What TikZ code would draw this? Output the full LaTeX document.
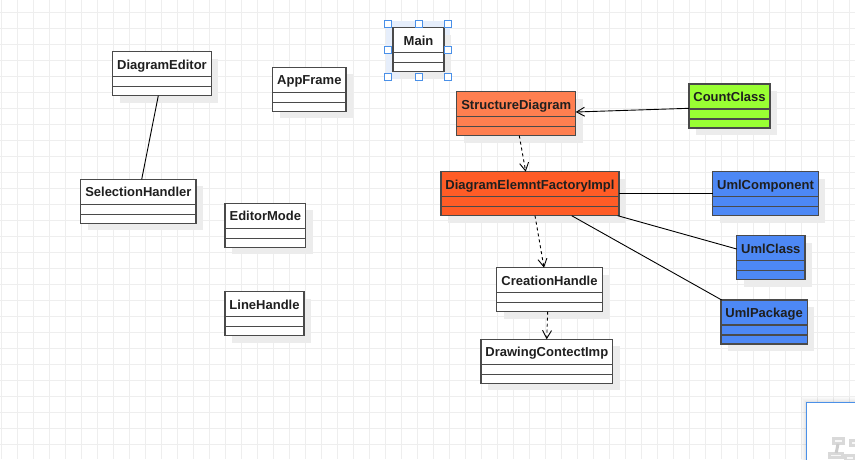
\documentclass[tikz,border=0pt]{standalone}
\usepackage{fontspec}
\setmainfont{Liberation Sans}
\usetikzlibrary{arrows.meta,calc}

\definecolor{gridc}{HTML}{EEEEEE}
\definecolor{edgec}{HTML}{4A4A4A}
\definecolor{shadowc}{HTML}{ECECEC}
\definecolor{coralc}{HTML}{FF7F50}
\definecolor{flamec}{HTML}{FF5C26}
\definecolor{limec}{HTML}{99FF33}
\definecolor{bluec}{HTML}{4D88F5}
\definecolor{selc}{HTML}{4A90E8}
\definecolor{selfill}{HTML}{E6EEFB}

\tikzset{
  gridline/.style={draw=gridc, line width=1pt},
  boxshadow/.style={fill=shadowc},
  classbox/.style={draw=edgec, line width=1.1pt, rectangle, minimum height=44pt,
                   inner sep=0pt, outer sep=0pt},
  classrule/.style={draw=edgec, line width=1.1pt},
  classname/.style={anchor=base, inner sep=0pt, text=black!88,
                    font=\bfseries\fontsize{13}{15}\selectfont},
  assoc/.style={draw=black, line width=0.9pt},
  opentip/.style={-{Straight Barb[length=8pt,width=9pt]}},
  dep/.style={assoc, dash pattern=on 3pt off 3pt, opentip},
  handle/.style={draw=selc, fill=white, line width=1pt},
  minibox/.style={draw=gray!30, fill=gray!6, line width=3pt},
}

% class box: name, left, top, width, fill colour, title
\newcommand{\umlclass}[6]{%
  \fill[boxshadow] (#2+7,#3+7) rectangle ++(#4,44);
  \node[classbox, fill=#5, minimum width=#4pt, anchor=north west] (#1) at (#2,#3) {};
  \draw[classrule] ($(#1.north west)+(0,25)$) -- ($(#1.north east)+(0,25)$);
  \draw[classrule] ($(#1.north west)+(0,35)$) -- ($(#1.north east)+(0,35)$);
  \node[classname] (#1-name) at ($(#1.north)+(0,17.5)$) {#6};
}

\begin{document}
\begin{tikzpicture}[x=1pt,y=-1pt]
\useasboundingbox (0,0) rectangle (855,459);
\fill[white] (0,0) rectangle (855,459);

% background grid
\foreach \i in {0,...,53} \draw[gridline] (1.3+16*\i,0) -- (1.3+16*\i,459);
\foreach \j in {0,...,28} \draw[gridline] (0,12.3+16*\j) -- (855,12.3+16*\j);

% selection frame behind Main
\fill[selfill] (386,21) rectangle (450,79);

% classes
\umlclass{main}{393}{27.7}{51}{white}{Main}
\umlclass{editor}{112.7}{51.7}{98.6}{white}{DiagramEditor}
\umlclass{appframe}{272.7}{67.3}{73.3}{white}{AppFrame}
\umlclass{selhandler}{80.7}{179.3}{115.3}{white}{SelectionHandler}
\umlclass{editmode}{225}{203.3}{80.7}{white}{EditorMode}
\umlclass{linehandle}{225}{291.7}{79}{white}{LineHandle}
\umlclass{struct}{456.7}{91.7}{119}{coralc}{StructureDiagram}
\umlclass{count}{689}{84}{81}{limec}{CountClass}
\umlclass{factory}{441}{171.7}{178}{flamec}{DiagramElemntFactoryImpl}
\umlclass{umlcomp}{712.7}{171.7}{105.6}{bluec}{UmlComponent}
\umlclass{umlclass}{736.7}{235.7}{68.3}{bluec}{UmlClass}
\umlclass{umlpkg}{721}{300}{86.3}{bluec}{UmlPackage}
\umlclass{creation}{496.7}{267.7}{105.6}{white}{CreationHandle}
\umlclass{drawing}{481}{339.3}{131.7}{white}{DrawingContectImp}

% selection handles around Main
\foreach \hx/\hy in {388/23.7,418.5/23.7,448/23.7,388/50.3,448/50.3,388/77,418.5/77,448/77}
  \draw[handle] (\hx-3.5,\hy-3.5) rectangle (\hx+3.5,\hy+3.5);

% connectors
\draw[assoc] ($(editor.south west)+(45.6,0)$) -- ($(selhandler.north west)+(61,0)$);
\draw[assoc, opentip] ($(count.north west)+(0,24.3)$) -- ($(struct.north east)+(0,20.3)$);
\draw[dep] ($(struct.south west)+(62.6,0)$) -- ($(factory.north west)+(84.7,0)$);
\draw[assoc] ($(factory.north east)+(0,21.5)$) -- ($(umlcomp.north west)+(0,21.5)$);
\draw[assoc] ($(factory.south west)+(176.7,0)$) -- ($(umlclass.north west)+(0,13.3)$);
\draw[assoc] ($(factory.south west)+(130.7,0)$) -- ($(umlpkg.north west)+(0.7,0)$);
\draw[dep] ($(factory.south west)+(94,0)$) -- ($(creation.north west)+(47.3,0)$);
\draw[dep] ($(creation.south west)+(51,0)$) -- ($(drawing.north west)+(65.7,0)$);

% overview panel in the corner
\foreach \k/\op in {1/0.10,2/0.07,3/0.05,4/0.03,5/0.02}
  \draw[black, opacity=\op, line width=1pt] (806.7-\k,402.7-\k) rectangle (870,470);
\fill[white] (806.7,402.7) rectangle (870,470);
\begin{scope}
  \clip (806.7,402.7) rectangle (870,470);
  \begin{scope}[shift={(820.6,433.3)}, x=0.11pt, y=-0.11pt]
    \foreach \bx/\by/\bw in {112.7/51.7/98.6, 272.7/67.3/73.3, 80.7/179.3/115.3,
                             225/203.3/80.7, 225/291.7/79, 393/27.7/51}
      \draw[minibox] (\bx,\by) rectangle ++(\bw,44);
    \draw[draw=gray!40, line width=3pt] (158.3,96) -- (141.7,179.3);
  \end{scope}
\end{scope}
\draw[selc, line width=1.5pt] (806.7,470) -- (806.7,402.7) -- (870,402.7);
\end{tikzpicture}
\end{document}
